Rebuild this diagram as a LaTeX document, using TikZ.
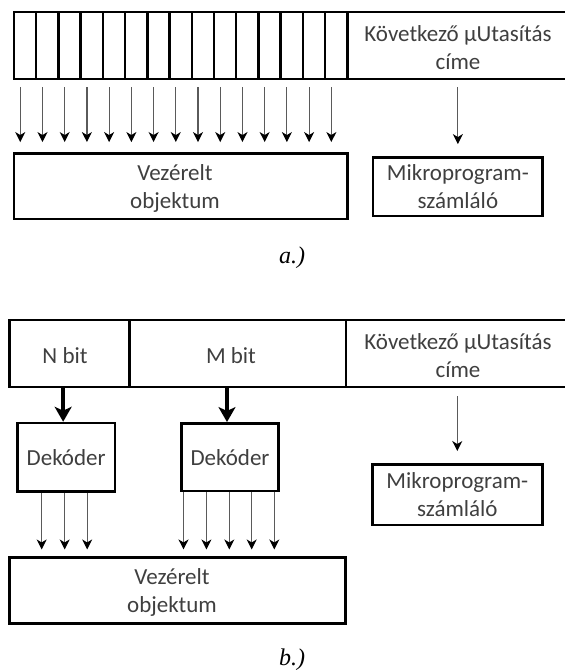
\documentclass[tikz,border=0pt]{standalone}
\usepackage{fontspec}
\setmainfont{Carlito}
\newfontfamily\capfont{Liberation Serif}
\usetikzlibrary{arrows.meta,calc}
\definecolor{txt}{HTML}{3F3F3F}
\definecolor{wire}{HTML}{5A5A5A}
\begin{document}
\begin{tikzpicture}[x=1pt,y=-1pt,
  box/.style={draw=black, line width=2.5pt, rectangle, inner sep=0pt},
  lbl/.style={font=\fontsize{23}{28}\selectfont, text=txt, align=center, inner sep=0pt},
  thinarr/.style={draw=wire, line width=1.2pt, -{Stealth[length=10pt,width=10pt,inset=3pt,color=black]}},
  thickarr/.style={draw=black, line width=3.5pt, -{Stealth[length=15pt,width=17pt,inset=4pt]}},
  figlabel/.style={font=\capfont\itshape\fontsize{24}{28}\selectfont, text=black, inner sep=0pt}
]
\useasboundingbox (0,0) rectangle (565,670);
\clip (0,0) rectangle (565,670);

% ---------- a.) horizontal microinstruction ----------
\foreach \i in {1,...,15} {
  \node[box, minimum width=22.22pt, minimum height=67pt] (a\i) at ({14+22.22*(\i-0.5)}, 45.5) {};
}
\node[box, minimum width=253pt, minimum height=67pt] (anext) at (473.8,45.5) {};
\node[lbl] (anexttext) at (458,48) {Következő µUtasítás\\címe};

\node[box, minimum width=333.3pt, minimum height=65.7pt] (aobj) at (180.65,186.15) {};
\node[lbl] (aobjtext) at (175,188) {Vezérelt\\objektum};

\node[box, lbl, minimum width=169.7pt, minimum height=58.7pt] (actr) at (457.85,186.65) {Mikroprogram-\\számláló};

\foreach \i in {1,...,15} {
  \draw[thinarr, shorten <=7pt, shorten >=10pt]
    ([xshift=7.5pt]a\i.south west) -- ([xshift=7.5pt]a\i.south west |- aobj.north);
}
\draw[thinarr, shorten <=7pt, shorten >=12pt] (actr.north |- anext.south) -- (actr.north);

\node[figlabel] (capa) at (292,258) {a.)};

% ---------- b.) encoded fields with decoders ----------
\node[box, minimum width=120pt, minimum height=67pt] (bn) at (69.3,353.5) {};
\node[box, minimum width=216.7pt, minimum height=67pt] (bm) at (237.65,353.5) {};
\node[box, minimum width=254pt, minimum height=67pt] (bnext) at (473,353.5) {};
\node[lbl] (bntext) at (65,356) {N bit};
\node[lbl] (bmtext) at (231,356) {M bit};
\node[lbl] (bnexttext) at (458,356) {Következő µUtasítás\\címe};

\node[box, lbl, minimum width=97.7pt, minimum height=68.5pt] (dn) at (66.15,457.25) {Dekóder};
\node[box, lbl, minimum width=96.6pt, minimum height=67.7pt] (dm) at (230,457.15) {Dekóder};

\node[box, minimum width=336.4pt, minimum height=65.6pt] (bobj) at (177.5,590.5) {};
\node[lbl] (bobjtext) at (172,592) {Vezérelt\\objektum};

\node[box, lbl, minimum width=170pt, minimum height=60.7pt] (bctr) at (457.3,494.65) {Mikroprogram-\\számláló};

\draw[thickarr] ([xshift=-3pt]dn.north |- bn.south) -- ([xshift=-3pt]dn.north);
\draw[thickarr] ([xshift=-3pt]dm.north |- bm.south) -- ([xshift=-3pt]dm.north);

\foreach \dx in {-24.5,-1.5,21} {
  \draw[thinarr, shorten >=7pt] ([xshift=\dx pt]dn.south) -- ([xshift=\dx pt]dn.south |- bobj.north);
}
\foreach \dx in {-46.5,-23.6,-0.7,21.7,44.3} {
  \draw[thinarr, shorten >=7pt] ([xshift=\dx pt]dm.south) -- ([xshift=\dx pt]dm.south |- bobj.north);
}
\draw[thinarr, shorten <=8pt, shorten >=12pt] (bctr.north |- bnext.south) -- (bctr.north);

\node[figlabel] (capb) at (292,660) {b.)};
\end{tikzpicture}
\end{document}
